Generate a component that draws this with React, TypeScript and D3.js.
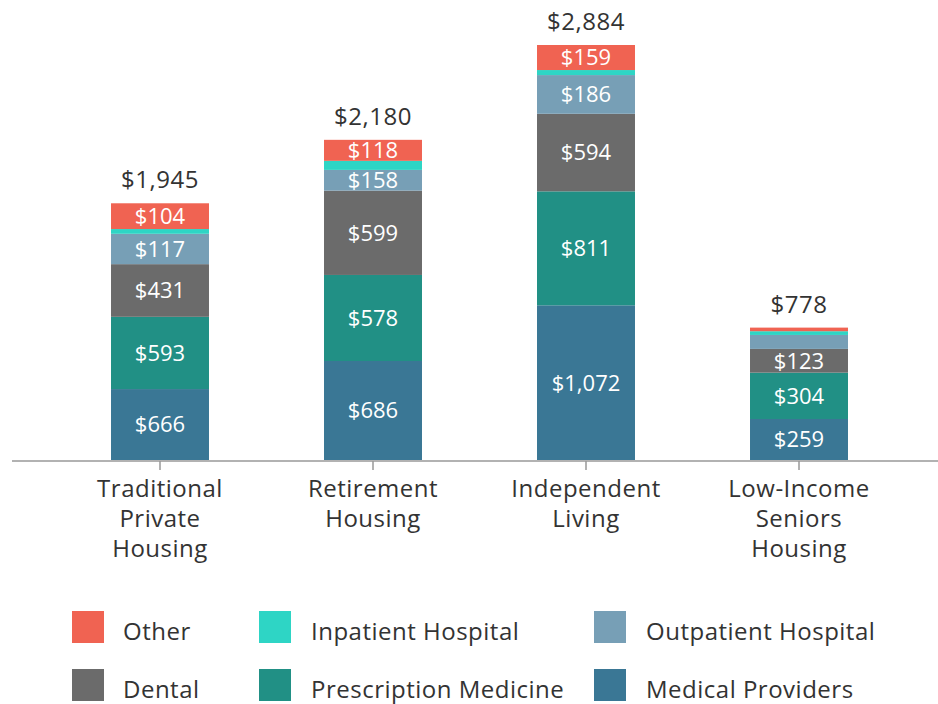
import React from "react";
import * as d3 from "d3";

const categories = [
  ["Traditional", "Private", "Housing"],
  ["Retirement", "Housing"],
  ["Independent", "Living"],
  ["Low-Income", "Seniors", "Housing"],
];
const categoryKeys = ["Traditional Private Housing", "Retirement Housing", "Independent Living", "Low-Income Seniors Housing"];

const seriesNames = ["Medical Providers", "Prescription Medicine", "Dental", "Outpatient Hospital", "Inpatient Hospital", "Other"];
const seriesColors = ["#3A7795", "#219085", "#6B6B6B", "#779FB6", "#2ED5C5", "#F06352"];

// printed segment labels ($); null = no label shown
const medicalProvidersLabel = [666, 686, 1072, 259];
const prescriptionMedicineLabel = [593, 578, 811, 304];
const dentalLabel = [431, 599, 594, 123];
const outpatientHospitalLabel = [117, 158, 186, null];
const inpatientHospitalLabel = [null, null, null, null];
const otherLabel = [104, 118, 159, null];
const totals = [1945, 2180, 2884, 778];

// segment heights as drawn in the picture (in $ on the common axis)
const medicalProviders = [493, 688, 1075, 285];
const prescriptionMedicine = [502, 598, 792, 322];
const dental = [366, 586, 539, 165];
const outpatientHospital = [211, 144, 269, 97];
const inpatientHospital = [33, 63, 35, 26];
const other = [179, 146, 174, 25];

const seriesValues = [medicalProviders, prescriptionMedicine, dental, outpatientHospital, inpatientHospital, other];
const seriesLabels = [medicalProvidersLabel, prescriptionMedicineLabel, dentalLabel, outpatientHospitalLabel, inpatientHospitalLabel, otherLabel];

const legendOrder = ["Other", "Inpatient Hospital", "Outpatient Hospital", "Dental", "Prescription Medicine", "Medical Providers"];

const W = 938;
const H = 704;
const FONT = "'Open Sans', 'Noto Sans', sans-serif";

export default function App() {
  const baseline = 460;
  const x = d3
    .scaleBand<string>()
    .domain(categoryKeys)
    .range([53.5, 905.5])
    .paddingInner(0.54)
    .paddingOuter(0.27);
  const y = d3.scaleLinear().domain([0, 2884]).range([baseline, 45]);

  const rows = categoryKeys.map((k, i) => {
    const obj: any = { key: k };
    seriesNames.forEach((s, j) => (obj[s] = seriesValues[j][i]));
    return obj;
  });
  const stack = d3.stack<any>().keys(seriesNames)(rows);
  const top = stack[stack.length - 1];
  const fmt = d3.format(",");

  const legendX = [72, 259, 594];
  const legendTextX = [123, 311, 646];
  const legendY = [611, 669];

  return (
    <svg
      width={W}
      height={H}
      style={{ position: "absolute", left: 0, top: 0, background: "#fff" }}
      fontFamily={FONT}
    >
      {stack.map((layer, j) => (
        <g key={layer.key}>
          {layer.map((d, i) => (
            <rect
              key={i}
              x={x(categoryKeys[i])}
              width={x.bandwidth()}
              y={y(d[1])}
              height={y(d[0]) - y(d[1])}
              fill={seriesColors[j]}
            />
          ))}
        </g>
      ))}
      {stack.map((layer, j) => (
        <g key={"l" + layer.key}>
          {layer.map((d, i) =>
            seriesLabels[j][i] != null ? (
              <text
                key={i}
                x={(x(categoryKeys[i]) as number) + x.bandwidth() / 2}
                y={(y(d[0]) + y(d[1])) / 2}
                dy="0.36em"
                textAnchor="middle"
                fill="#fff"
                fontSize={22}
              >
                {"$" + fmt(seriesLabels[j][i] as number)}
              </text>
            ) : null
          )}
        </g>
      ))}
      {totals.map((t, i) => (
        <text
          key={"t" + i}
          x={(x(categoryKeys[i]) as number) + x.bandwidth() / 2}
          y={y(top[i][1]) - 15}
          textAnchor="middle"
          fill="#333"
          fontSize={24}
          letterSpacing={0.5}
        >
          {"$" + fmt(t)}
        </text>
      ))}
      <line x1={12} x2={W} y1={baseline + 1} y2={baseline + 1} stroke="#999" strokeWidth={1.5} />
      {categoryKeys.map((k, i) => {
        const cx = (x(k) as number) + x.bandwidth() / 2;
        return (
          <g key={"a" + i}>
            <line x1={cx} x2={cx} y1={baseline + 1} y2={baseline + 10} stroke="#999" strokeWidth={1.5} />
            <text textAnchor="middle" fill="#333" fontSize={24} letterSpacing={0.5}>
              {categories[i].map((line, li) => (
                <tspan key={li} x={cx} y={497 + li * 30}>
                  {line}
                </tspan>
              ))}
            </text>
          </g>
        );
      })}
      {legendOrder.map((name, idx) => {
        const col = idx % 3;
        const row = Math.floor(idx / 3);
        const color = seriesColors[seriesNames.indexOf(name)];
        return (
          <g key={"lg" + idx}>
            <rect x={legendX[col]} y={legendY[row]} width={32} height={32} fill={color} />
            <text
              x={legendTextX[col]}
              y={legendY[row] + 20}
              dy="0.36em"
              fill="#333"
              fontSize={24}
              letterSpacing={0.5}
            >
              {name}
            </text>
          </g>
        );
      })}
    </svg>
  );
}
